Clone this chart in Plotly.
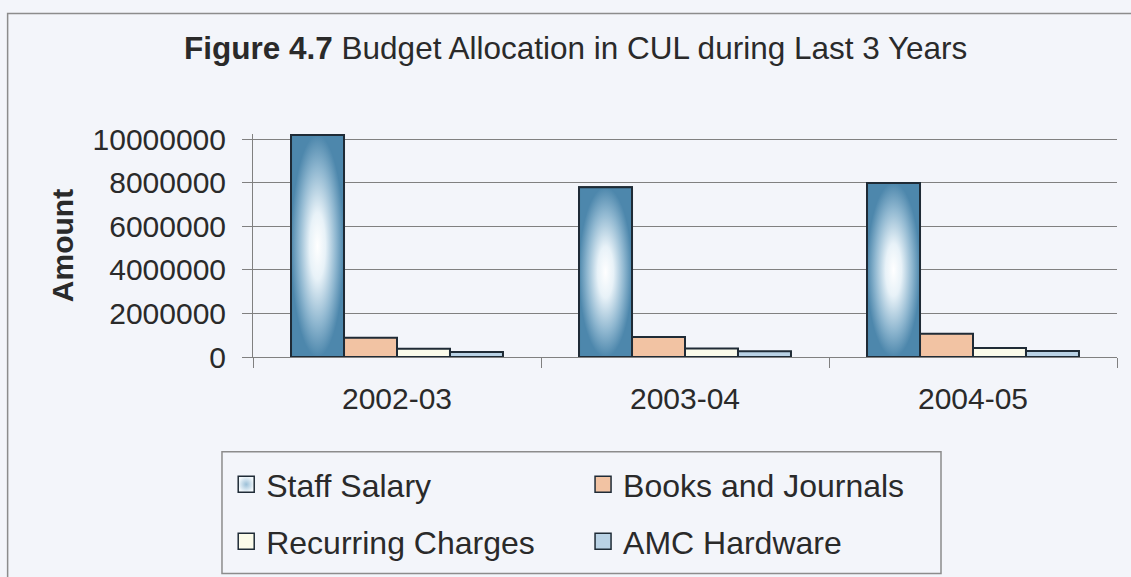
import plotly.graph_objects as go

# Budget allocation (amount) by year and head of expenditure
years = ["2002-03", "2003-04", "2004-05"]
staff_salary = [10200000, 7800000, 8000000]
books_journals = [890000, 920000, 1070000]
recurring_charges = [380000, 390000, 410000]
amc_hardware = [230000, 260000, 280000]
y_ticks = [0, 2000000, 4000000, 6000000, 8000000, 10000000]

series = [
    ("Staff Salary", staff_salary, "#5a90b2"),
    ("Books and Journals", books_journals, "#f2c3a3"),
    ("Recurring Charges", recurring_charges, "#fbfbea"),
    ("AMC Hardware", amc_hardware, "#b9d2e5"),
]

FONT = "Liberation Sans, Arial, sans-serif"
TEXT = "#2a2a2a"
BG = "#f3f5fa"
EDGE = "#1f2b36"
GRID = "#808080"

x_pos = list(range(len(years)))
bar_w = 0.184
y_max = 10250000

fig = go.Figure()

# clustered columns, four per year
for k, (name, vals, color) in enumerate(series):
    fig.add_trace(go.Bar(
        x=x_pos, y=vals, width=bar_w, offset=-2 * bar_w + k * bar_w,
        marker=dict(color=color, line=dict(color=EDGE, width=2)),
        name=name, showlegend=False, cliponaxis=False,
    ))

# shaded (radial gradient) face for the salary columns
for i, v in enumerate(staff_salary):
    x0 = x_pos[i] - 2 * bar_w
    x1 = x0 + bar_w
    fig.add_trace(go.Scatter(
        x=[x0, x1, x1, x0, x0], y=[0, 0, v, v, 0],
        mode="lines", fill="toself",
        fillgradient=dict(type="radial",
                          colorscale=[[0, "#ffffff"], [0.3, "#e8f2f8"],
                                      [0.7, "#8fb7d0"], [1, "#4d87ac"]]),
        line=dict(color=EDGE, width=2),
        showlegend=False, hoverinfo="skip", cliponaxis=False,
    ))

# legend entries (2 x 2 grid inside a framed box)
legend_slots = [(-0.031, -0.572), (0.382, -0.572), (-0.031, -0.827), (0.382, -0.827)]
for k, (name, vals, color) in enumerate(series):
    marker = dict(symbol="square", size=16, color=color, line=dict(color=EDGE, width=1.5))
    if k == 0:
        marker = dict(symbol="square", size=16, color="#f2f8fc",
                      gradient=dict(type="radial", color="#9cc0d8"),
                      line=dict(color=EDGE, width=1.5))
    fig.add_trace(go.Scatter(
        x=[None], y=[None], mode="markers", marker=marker, name=name,
        legend="legend" if k == 0 else f"legend{k + 1}",
    ))

legend_common = dict(xanchor="left", yanchor="middle", bgcolor="rgba(0,0,0,0)",
                     borderwidth=0, itemwidth=30, itemsizing="trace",
                     font=dict(family=FONT, size=32, color=TEXT))
legends = {}
for k, (lx, ly) in enumerate(legend_slots):
    key = "legend" if k == 0 else f"legend{k + 1}"
    legends[key] = dict(x=lx, y=ly, **legend_common)

fig.update_layout(
    width=1131, height=577,
    margin=dict(l=253, r=14, t=133.5, b=220, autoexpand=False),
    paper_bgcolor=BG, plot_bgcolor=BG,
    font=dict(family=FONT, size=30, color=TEXT),
    barmode="overlay",
    title=dict(
        text="<b>Figure 4.7</b> Budget Allocation in CUL during Last 3 Years",
        x=0.509, xref="container", xanchor="center",
        y=0.917, yref="container", yanchor="middle",
        font=dict(family=FONT, size=31.5, color=TEXT),
    ),
    xaxis=dict(
        range=[-0.5, 2.5], tickmode="array", tickvals=x_pos, ticktext=years,
        ticks="", showgrid=False, zeroline=False,
        showline=True, linecolor=GRID, linewidth=1,
        ticklabelstandoff=15,
        tickfont=dict(family=FONT, size=30, color=TEXT),
        minor=dict(tickmode="linear", tick0=-0.5, dtick=1, ticks="outside",
                   ticklen=10, tickcolor=GRID, tickwidth=1, showgrid=False),
    ),
    yaxis=dict(
        range=[0, y_max], tickmode="array", tickvals=y_ticks,
        ticktext=[str(t) for t in y_ticks],
        ticks="outside", ticklen=10, tickcolor=GRID, tickwidth=1,
        showgrid=True, gridcolor=GRID, gridwidth=1, zeroline=False,
        showline=True, linecolor=GRID, linewidth=1,
        ticklabelstandoff=10,
        tickfont=dict(family=FONT, size=30, color=TEXT),
        title=dict(text="<b>Amount</b>", standoff=10,
                   font=dict(family=FONT, size=30, color=TEXT)),
        automargin=False,
    ),
    shapes=[
        # outer chart frame
        dict(type="rect", xref="paper", yref="paper",
             x0=-0.284, x1=1.06, y0=-1.06, y1=1.54,
             line=dict(color="#8c8c8c", width=1.5), fillcolor="rgba(0,0,0,0)", layer="below"),
        # legend frame
        dict(type="rect", xref="paper", yref="paper",
             x0=-0.0359, x1=0.7963, y0=-0.9712, y1=-0.4252,
             line=dict(color="#8c8c8c", width=1.5), fillcolor="rgba(0,0,0,0)", layer="below"),
    ],
    **legends,
)

fig.write_html("out.html")
